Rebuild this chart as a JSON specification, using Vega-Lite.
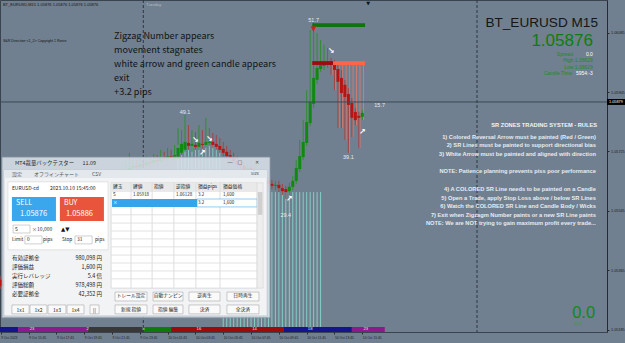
{
"$schema":"https://vega.github.io/schema/vega-lite/v6.json",
"width":607,"height":332,
"autosize":{"type":"none"},
"padding":{"left":0,"top":0,"right":18,"bottom":11},
"background":"#708090",
"config":{"view":{"stroke":"#3a444e","strokeWidth":1},"font":"Liberation Sans"},
"datasets":{"bars":[
{"t":"2023-10-09T13:45:00Z","o":1.05336,"h":1.05348,"l":1.05308,"c":1.05317},
{"t":"2023-10-09T14:00:00Z","o":1.05317,"h":1.05336,"l":1.05302,"c":1.05324},
{"t":"2023-10-09T14:15:00Z","o":1.05324,"h":1.05360,"l":1.05314,"c":1.05348},
{"t":"2023-10-09T14:30:00Z","o":1.05348,"h":1.05381,"l":1.05336,"c":1.05366},
{"t":"2023-10-09T14:45:00Z","o":1.05366,"h":1.05378,"l":1.05342,"c":1.05354},
{"t":"2023-10-09T15:00:00Z","o":1.05354,"h":1.05396,"l":1.05348,"c":1.05381},
{"t":"2023-10-09T15:15:00Z","o":1.05381,"h":1.05421,"l":1.05372,"c":1.05402},
{"t":"2023-10-09T15:30:00Z","o":1.05402,"h":1.05414,"l":1.05378,"c":1.05390},
{"t":"2023-10-09T15:45:00Z","o":1.05390,"h":1.05436,"l":1.05384,"c":1.05421},
{"t":"2023-10-09T16:00:00Z","o":1.05421,"h":1.05457,"l":1.05411,"c":1.05442},
{"t":"2023-10-09T16:15:00Z","o":1.05442,"h":1.05454,"l":1.05421,"c":1.05433},
{"t":"2023-10-09T16:30:00Z","o":1.05433,"h":1.05475,"l":1.05427,"c":1.05457},
{"t":"2023-10-09T16:45:00Z","o":1.05457,"h":1.05487,"l":1.05448,"c":1.05469},
{"t":"2023-10-09T17:00:00Z","o":1.05469,"h":1.05481,"l":1.05445,"c":1.05457},
{"t":"2023-10-09T17:15:00Z","o":1.05457,"h":1.05499,"l":1.05451,"c":1.05481},
{"t":"2023-10-09T17:30:00Z","o":1.05481,"h":1.05517,"l":1.05472,"c":1.05499},
{"t":"2023-10-09T17:45:00Z","o":1.05499,"h":1.05511,"l":1.05478,"c":1.05490},
{"t":"2023-10-09T18:00:00Z","o":1.05490,"h":1.05533,"l":1.05484,"c":1.05514},
{"t":"2023-10-09T18:15:00Z","o":1.05514,"h":1.05551,"l":1.05505,"c":1.05536},
{"t":"2023-10-09T18:30:00Z","o":1.05536,"h":1.05548,"l":1.05511,"c":1.05524},
{"t":"2023-10-09T18:45:00Z","o":1.05524,"h":1.05566,"l":1.05517,"c":1.05548},
{"t":"2023-10-09T19:00:00Z","o":1.05548,"h":1.05578,"l":1.05539,"c":1.05563},
{"t":"2023-10-09T19:15:00Z","o":1.05563,"h":1.05575,"l":1.05542,"c":1.05554},
{"t":"2023-10-09T19:30:00Z","o":1.05554,"h":1.05593,"l":1.05548,"c":1.05578},
{"t":"2023-10-09T19:45:00Z","o":1.05578,"h":1.05608,"l":1.05569,"c":1.05590},
{"t":"2023-10-09T20:00:00Z","o":1.05590,"h":1.05602,"l":1.05569,"c":1.05581},
{"t":"2023-10-09T20:15:00Z","o":1.05581,"h":1.05618,"l":1.05575,"c":1.05602},
{"t":"2023-10-09T20:30:00Z","o":1.05602,"h":1.05630,"l":1.05593,"c":1.05614},
{"t":"2023-10-09T20:45:00Z","o":1.05614,"h":1.05627,"l":1.05596,"c":1.05605},
{"t":"2023-10-09T21:00:00Z","o":1.05605,"h":1.05639,"l":1.05599,"c":1.05624},
{"t":"2023-10-09T21:15:00Z","o":1.05624,"h":1.05651,"l":1.05614,"c":1.05636},
{"t":"2023-10-09T21:30:00Z","o":1.05636,"h":1.05645,"l":1.05621,"c":1.05630},
{"t":"2023-10-09T21:45:00Z","o":1.05630,"h":1.05660,"l":1.05624,"c":1.05645},
{"t":"2023-10-09T22:00:00Z","o":1.05645,"h":1.05669,"l":1.05636,"c":1.05654},
{"t":"2023-10-09T22:15:00Z","o":1.05654,"h":1.05666,"l":1.05639,"c":1.05648},
{"t":"2023-10-09T22:30:00Z","o":1.05648,"h":1.05681,"l":1.05642,"c":1.05663},
{"t":"2023-10-09T22:45:00Z","o":1.05663,"h":1.05699,"l":1.05654,"c":1.05669},
{"t":"2023-10-09T23:00:00Z","o":1.05669,"h":1.05721,"l":1.05660,"c":1.05675},
{"t":"2023-10-09T23:15:00Z","o":1.05675,"h":1.05705,"l":1.05666,"c":1.05681},
{"t":"2023-10-09T23:30:00Z","o":1.05681,"h":1.05699,"l":1.05669,"c":1.05678},
{"t":"2023-10-09T23:45:00Z","o":1.05678,"h":1.05705,"l":1.05672,"c":1.05687},
{"t":"2023-10-10T00:00:00Z","o":1.05687,"h":1.05702,"l":1.05675,"c":1.05684},
{"t":"2023-10-10T00:15:00Z","o":1.05684,"h":1.05711,"l":1.05678,"c":1.05693},
{"t":"2023-10-10T00:30:00Z","o":1.05693,"h":1.05708,"l":1.05681,"c":1.05690},
{"t":"2023-10-10T00:45:00Z","o":1.05690,"h":1.05717,"l":1.05684,"c":1.05699},
{"t":"2023-10-10T01:00:00Z","o":1.05699,"h":1.05714,"l":1.05687,"c":1.05696},
{"t":"2023-10-10T01:15:00Z","o":1.05696,"h":1.05730,"l":1.05690,"c":1.05705},
{"t":"2023-10-10T01:30:00Z","o":1.05705,"h":1.05724,"l":1.05693,"c":1.05702},
{"t":"2023-10-10T01:45:00Z","o":1.05702,"h":1.05736,"l":1.05696,"c":1.05711},
{"t":"2023-10-10T02:00:00Z","o":1.05711,"h":1.05730,"l":1.05699,"c":1.05708},
{"t":"2023-10-10T02:15:00Z","o":1.05708,"h":1.05745,"l":1.05699,"c":1.05714},
{"t":"2023-10-10T02:30:00Z","o":1.05708,"h":1.05796,"l":1.05702,"c":1.05736},
{"t":"2023-10-10T02:45:00Z","o":1.05721,"h":1.05790,"l":1.05714,"c":1.05748},
{"t":"2023-10-10T03:00:00Z","o":1.05730,"h":1.05836,"l":1.05724,"c":1.05754},
{"t":"2023-10-10T03:15:00Z","o":1.05751,"h":1.05805,"l":1.05730,"c":1.05742},
{"t":"2023-10-10T03:30:00Z","o":1.05742,"h":1.05790,"l":1.05724,"c":1.05748},
{"t":"2023-10-10T03:45:00Z","o":1.05745,"h":1.05784,"l":1.05730,"c":1.05739},
{"t":"2023-10-10T04:00:00Z","o":1.05739,"h":1.05805,"l":1.05730,"c":1.05751},
{"t":"2023-10-10T04:15:00Z","o":1.05748,"h":1.05790,"l":1.05733,"c":1.05745},
{"t":"2023-10-10T04:30:00Z","o":1.05745,"h":1.05827,"l":1.05736,"c":1.05754},
{"t":"2023-10-10T04:45:00Z","o":1.05751,"h":1.05796,"l":1.05742,"c":1.05754},
{"t":"2023-10-10T05:00:00Z","o":1.05754,"h":1.05781,"l":1.05736,"c":1.05745},
{"t":"2023-10-10T05:15:00Z","o":1.05748,"h":1.05775,"l":1.05730,"c":1.05739},
{"t":"2023-10-10T05:30:00Z","o":1.05742,"h":1.05766,"l":1.05721,"c":1.05730},
{"t":"2023-10-10T05:45:00Z","o":1.05733,"h":1.05754,"l":1.05711,"c":1.05721},
{"t":"2023-10-10T06:00:00Z","o":1.05724,"h":1.05742,"l":1.05705,"c":1.05711},
{"t":"2023-10-10T06:15:00Z","o":1.05714,"h":1.05730,"l":1.05696,"c":1.05705},
{"t":"2023-10-10T06:30:00Z","o":1.05705,"h":1.05721,"l":1.05687,"c":1.05696},
{"t":"2023-10-10T06:45:00Z","o":1.05696,"h":1.05711,"l":1.05678,"c":1.05687},
{"t":"2023-10-10T07:00:00Z","o":1.05687,"h":1.05699,"l":1.05672,"c":1.05681},
{"t":"2023-10-10T07:15:00Z","o":1.05681,"h":1.05693,"l":1.05660,"c":1.05669},
{"t":"2023-10-10T07:30:00Z","o":1.05669,"h":1.05687,"l":1.05660,"c":1.05675},
{"t":"2023-10-10T07:45:00Z","o":1.05675,"h":1.05684,"l":1.05651,"c":1.05663},
{"t":"2023-10-10T08:00:00Z","o":1.05663,"h":1.05675,"l":1.05645,"c":1.05654},
{"t":"2023-10-10T08:15:00Z","o":1.05654,"h":1.05666,"l":1.05636,"c":1.05645},
{"t":"2023-10-10T08:30:00Z","o":1.05645,"h":1.05660,"l":1.05636,"c":1.05648},
{"t":"2023-10-10T08:45:00Z","o":1.05648,"h":1.05657,"l":1.05627,"c":1.05636},
{"t":"2023-10-10T09:00:00Z","o":1.05636,"h":1.05648,"l":1.05618,"c":1.05627},
{"t":"2023-10-10T09:15:00Z","o":1.05627,"h":1.05639,"l":1.05611,"c":1.05621},
{"t":"2023-10-10T09:30:00Z","o":1.05621,"h":1.05636,"l":1.05608,"c":1.05624},
{"t":"2023-10-10T09:45:00Z","o":1.05624,"h":1.05636,"l":1.05602,"c":1.05614},
{"t":"2023-10-10T10:00:00Z","o":1.05614,"h":1.05627,"l":1.05593,"c":1.05605},
{"t":"2023-10-10T10:15:00Z","o":1.05611,"h":1.05621,"l":1.05581,"c":1.05602},
{"t":"2023-10-10T10:30:00Z","o":1.05605,"h":1.05630,"l":1.05593,"c":1.05618},
{"t":"2023-10-10T10:45:00Z","o":1.05618,"h":1.05651,"l":1.05608,"c":1.05636},
{"t":"2023-10-10T11:00:00Z","o":1.05636,"h":1.05699,"l":1.05627,"c":1.05675},
{"t":"2023-10-10T11:15:00Z","o":1.05672,"h":1.05760,"l":1.05663,"c":1.05711},
{"t":"2023-10-10T11:30:00Z","o":1.05708,"h":1.05820,"l":1.05699,"c":1.05754},
{"t":"2023-10-10T11:45:00Z","o":1.05751,"h":1.05911,"l":1.05742,"c":1.05814},
{"t":"2023-10-10T12:00:00Z","o":1.05811,"h":1.06093,"l":1.05802,"c":1.05875},
{"t":"2023-10-10T12:15:00Z","o":1.05869,"h":1.06124,"l":1.05857,"c":1.05948},
{"t":"2023-10-10T12:30:00Z","o":1.05942,"h":1.06084,"l":1.05930,"c":1.05978},
{"t":"2023-10-10T12:45:00Z","o":1.05975,"h":1.06063,"l":1.05966,"c":1.05987},
{"t":"2023-10-10T13:00:00Z","o":1.05984,"h":1.06048,"l":1.05972,"c":1.05993},
{"t":"2023-10-10T13:15:00Z","o":1.05990,"h":1.06039,"l":1.05978,"c":1.05996},
{"t":"2023-10-10T13:30:00Z","o":1.05996,"h":1.06008,"l":1.05957,"c":1.05987},
{"t":"2023-10-10T13:45:00Z","o":1.05987,"h":1.06002,"l":1.05911,"c":1.05972},
{"t":"2023-10-10T14:00:00Z","o":1.05975,"h":1.05993,"l":1.05796,"c":1.05936},
{"t":"2023-10-10T14:15:00Z","o":1.05948,"h":1.05972,"l":1.05796,"c":1.05902},
{"t":"2023-10-10T14:30:00Z","o":1.05927,"h":1.05942,"l":1.05760,"c":1.05890},
{"t":"2023-10-10T14:45:00Z","o":1.05899,"h":1.05917,"l":1.05721,"c":1.05866},
{"t":"2023-10-10T15:00:00Z","o":1.05872,"h":1.05887,"l":1.05769,"c":1.05827},
{"t":"2023-10-10T15:15:00Z","o":1.05845,"h":1.05857,"l":1.05805,"c":1.05820},
{"t":"2023-10-10T15:30:00Z","o":1.05833,"h":1.05845,"l":1.05736,"c":1.05827},
{"t":"2023-10-10T15:45:00Z","o":1.05830,"h":1.05851,"l":1.05820,"c":1.05842}
]},
"layer":[
{"data":{"name":"bars"},
 "transform":[{"filter":{"field":"t","range":[{"year":2023,"month":10,"date":10,"hours":2,"minutes":30,"utc":true},{"year":2023,"month":10,"date":10,"hours":5,"minutes":30,"utc":true}]}}],
 "mark":{"type":"rule","color":"#86dccd","opacity":0.8},
 "encoding":{"x":{"field":"t","type":"temporal"},"y":{"datum":1.05745},"y2":{"datum":1.05669}}},
{"data":{"name":"bars"},
 "transform":[{"filter":{"field":"t","range":[{"year":2023,"month":10,"date":10,"hours":5,"minutes":45,"utc":true},{"year":2023,"month":10,"date":10,"hours":12,"minutes":45,"utc":true}]}}],
 "mark":{"type":"rule","color":"#86dccd","opacity":0.85},
 "encoding":{"x":{"field":"t","type":"temporal"},"y":{"datum":1.05602},"y2":{"datum":1.05178}}},
{"data":{"name":"bars"},
 "transform":[{"filter":{"field":"t","range":[{"year":2023,"month":10,"date":10,"hours":13,"minutes":30,"utc":true},{"year":2023,"month":10,"date":10,"hours":15,"minutes":45,"utc":true}]}}],
 "mark":{"type":"rule","color":"#f07a66","opacity":0.75,"xOffset":1.2},
 "encoding":{"x":{"field":"t","type":"temporal"},"y":{"field":"l","type":"quantitative"},"y2":{"datum":1.05993}}},
{"data":{"name":"bars"},
 "mark":{"type":"rule","strokeWidth":1},
 "encoding":{
  "x":{"field":"t","type":"temporal","scale":{"type":"utc","domain":[{"year":2023,"month":10,"date":9,"hours":13,"minutes":41,"seconds":33,"utc":true},{"year":2023,"month":10,"date":11,"hours":9,"minutes":21,"utc":true}]},
   "axis":{"orient":"bottom","title":null,"grid":false,"domain":false,"values":[
    {"year":2023,"month":10,"date":9,"hours":13,"minutes":45,"utc":true},
    {"year":2023,"month":10,"date":9,"hours":15,"minutes":45,"utc":true},
    {"year":2023,"month":10,"date":9,"hours":17,"minutes":45,"utc":true},
    {"year":2023,"month":10,"date":9,"hours":19,"minutes":45,"utc":true},
    {"year":2023,"month":10,"date":9,"hours":21,"minutes":45,"utc":true},
    {"year":2023,"month":10,"date":9,"hours":23,"minutes":45,"utc":true},
    {"year":2023,"month":10,"date":10,"hours":1,"minutes":45,"utc":true},
    {"year":2023,"month":10,"date":10,"hours":3,"minutes":45,"utc":true},
    {"year":2023,"month":10,"date":10,"hours":5,"minutes":45,"utc":true},
    {"year":2023,"month":10,"date":10,"hours":7,"minutes":45,"utc":true},
    {"year":2023,"month":10,"date":10,"hours":9,"minutes":45,"utc":true},
    {"year":2023,"month":10,"date":10,"hours":11,"minutes":45,"utc":true},
    {"year":2023,"month":10,"date":10,"hours":13,"minutes":45,"utc":true},
    {"year":2023,"month":10,"date":10,"hours":15,"minutes":45,"utc":true}],
    "labelExpr":"(utcFormat(datum.value, '%d %H:%M') == '09 13:45') ? '9 Oct 2023' : utcFormat(datum.value, '%-d %b %H:%M')",
    "labelAlign":"left","labelFlush":false,"labelOverlap":false,"labelFontSize":3.3,"labelColor":"#1c1c1c","labelPadding":1,"tickSize":2,"tickColor":"#2a2a2a","labelFont":"Liberation Sans"}},
  "y":{"field":"l","type":"quantitative","scale":{"domain":[1.05178,1.06184],"zero":false,"nice":false},
   "axis":{"orient":"right","title":null,"grid":false,"values":[1.06175,1.0613,1.06085,1.0604,1.05995,1.0595,1.05905,1.0586,1.05815,1.0577,1.05725,1.0568,1.05635,1.0559,1.05545,1.055,1.05455,1.0541,1.05365,1.0532,1.05275,1.0523,1.05185],
    "format":".5f","labelFontSize":3.8,"labelColor":"#1c1c1c","labelPadding":1.5,"tickSize":2,"tickColor":"#2a2a2a","domain":true,"domainColor":"#2a2a2a","labelOverlap":false,"labelFlush":false,"labelFont":"Liberation Sans"}},
  "y2":{"field":"h"},
  "color":{"condition":{"test":"datum.c >= datum.o","value":"#2f8f2f"},"value":"#a04545"}}},
{"data":{"name":"bars"},
 "mark":{"type":"rule","strokeWidth":3},
 "encoding":{"x":{"field":"t","type":"temporal"},"y":{"field":"o","type":"quantitative"},"y2":{"field":"c"},
  "color":{"condition":{"test":"datum.c >= datum.o","value":"#0f8a0f"},"value":"#b81414"}}},
{"data":{"values":[
  {"start":"2023-10-10T12:09:00Z","end":"2023-10-10T15:57:00Z","level":1.06108,"zone":"resistance"},
  {"start":"2023-10-10T12:09:00Z","end":"2023-10-10T13:39:00Z","level":1.05993,"zone":"support"},
  {"start":"2023-10-10T13:39:00Z","end":"2023-10-10T15:57:00Z","level":1.05993,"zone":"support broken"}]},
 "mark":{"type":"rule","strokeWidth":3.8},
 "encoding":{"x":{"field":"start","type":"temporal"},"x2":{"field":"end"},"y":{"field":"level","type":"quantitative"},
  "color":{"field":"zone","type":"nominal","legend":null,"scale":{"domain":["resistance","support","support broken"],"range":["#0f740f","#9c0c0c","#ff6448"]}}}},
{"data":{"values":[
  {"start":"2023-10-09T13:41:00Z","end":"2023-10-09T15:00:00Z","state":"s1"},
  {"start":"2023-10-09T15:00:00Z","end":"2023-10-09T20:00:00Z","state":"s2"},
  {"start":"2023-10-09T20:00:00Z","end":"2023-10-10T00:00:00Z","state":"s3"},
  {"start":"2023-10-10T00:00:00Z","end":"2023-10-10T02:00:00Z","state":"s4"},
  {"start":"2023-10-10T02:00:00Z","end":"2023-10-10T10:07:00Z","state":"s5"},
  {"start":"2023-10-10T10:07:00Z","end":"2023-10-10T15:00:00Z","state":"s1"},
  {"start":"2023-10-10T15:00:00Z","end":"2023-10-10T17:22:00Z","state":"s2"}]},
 "mark":{"type":"rect"},
 "encoding":{"x":{"field":"start","type":"temporal"},"x2":{"field":"end"},"y":{"datum":1.05193},"y2":{"datum":1.05178},
  "fill":{"field":"state","type":"nominal","legend":null,"scale":{"domain":["s1","s2","s3","s4","s5"],"range":["#14148c","#8c1a8c","#383838","#0c7a0c","#9c0a0a"]}}}},
{"data":{"values":[
  {"t":"2023-10-09T16:00:00Z","v":"23"},{"t":"2023-10-09T20:00:00Z","v":"2"},{"t":"2023-10-10T00:00:00Z","v":"5"},
  {"t":"2023-10-10T04:00:00Z","v":"16"},{"t":"2023-10-10T08:00:00Z","v":"14"},{"t":"2023-10-10T12:00:00Z","v":"18"},{"t":"2023-10-10T16:00:00Z","v":"23"}]},
 "mark":{"type":"text","fontSize":4.2,"color":"#e8e8e8","baseline":"middle"},
 "encoding":{"x":{"field":"t","type":"temporal"},"y":{"datum":1.05186},"text":{"field":"v"}}},
{"data":{"values":[{}]},
 "layer":[
  {"mark":{"type":"rule","color":"#3d4853"},"encoding":{"y":{"datum":1.05875}}},
  {"mark":{"type":"rule","color":"#2e3640","strokeDash":[3,2]},"encoding":{"x":{"datum":{"year":2023,"month":10,"date":10,"hours":0,"minutes":0,"utc":true}}}},
  {"mark":{"type":"rule","color":"#2e3640","strokeDash":[3,2]},"encoding":{"x":{"datum":{"year":2023,"month":10,"date":11,"hours":0,"minutes":0,"utc":true}}}},
  {"mark":{"type":"text","text":"▼","fontSize":7,"color":"#d02020","baseline":"middle","font":"DejaVu Sans"},"encoding":{"x":{"datum":{"year":2023,"month":10,"date":10,"hours":12,"minutes":15,"utc":true}},"y":{"datum":1.06096}}}
 ]},
{"data":{"values":[
  {"t":"2023-10-10T03:00:00Z","p":1.05845,"label":"49.1"},
  {"t":"2023-10-10T10:15:00Z","p":1.05533,"label":"29.4"},
  {"t":"2023-10-10T12:15:00Z","p":1.06124,"label":"51.7"},
  {"t":"2023-10-10T14:45:00Z","p":1.05708,"label":"39.1"},
  {"t":"2023-10-10T17:00:00Z","p":1.05866,"label":"15.7"}]},
 "mark":{"type":"text","fontSize":5.5,"color":"#e6eaf0","baseline":"middle"},
 "encoding":{"x":{"field":"t","type":"temporal"},"y":{"field":"p","type":"quantitative"},"text":{"field":"label"}}},
{"data":{"values":[
  {"t":"2023-10-10T03:45:00Z","p":1.05760,"dir":"down"},
  {"t":"2023-10-10T04:15:00Z","p":1.05721,"dir":"up"},
  {"t":"2023-10-10T04:45:00Z","p":1.05763,"dir":"down"},
  {"t":"2023-10-10T10:30:00Z","p":1.05581,"dir":"up"},
  {"t":"2023-10-10T13:30:00Z","p":1.06030,"dir":"down"},
  {"t":"2023-10-10T15:45:00Z","p":1.05784,"dir":"up"}]},
 "mark":{"type":"text","fontSize":8,"fontWeight":"bold","color":"#ffffff","baseline":"middle","font":"DejaVu Sans"},
 "encoding":{"x":{"field":"t","type":"temporal"},"y":{"field":"p","type":"quantitative"},
  "text":{"condition":{"test":"datum.dir == 'up'","value":"↗"},"value":"↘"}}},
{"data":{"values":[{}]},
 "layer":[
  {"mark":{"type":"text","text":"BT_EURUSD,M15  1.05876 1.05876 1.05876 1.05876","align":"left","baseline":"middle","fontSize":4,"color":"#141414"},"encoding":{"x":{"datum":{"year":2023,"month":10,"date":9,"hours":13,"minutes":54,"utc":true}},"y":{"datum":1.06169}}},
  {"mark":{"type":"text","text":"S&R Direction <1_2> Copyright ‡ Ronin","align":"left","baseline":"middle","fontSize":3.6,"color":"#141414"},"encoding":{"x":{"datum":{"year":2023,"month":10,"date":9,"hours":13,"minutes":54,"utc":true}},"y":{"datum":1.06060}}},
  {"mark":{"type":"text","text":"Tuesday","align":"left","baseline":"middle","fontSize":4,"color":"#b4bcc6"},"encoding":{"x":{"datum":{"year":2023,"month":10,"date":9,"hours":13,"minutes":672,"utc":true}},"y":{"datum":1.06169}}},
  {"mark":{"type":"text","text":"▼","baseline":"middle","fontSize":5,"color":"#111111","font":"DejaVu Sans"},"encoding":{"x":{"datum":{"year":2023,"month":10,"date":9,"hours":13,"minutes":1630,"utc":true}},"y":{"datum":1.06176}}},
  {"mark":{"type":"text","text":["Zigzag Number appears","movement stagnates","white arrow and green candle appears","exit","+3.2 pips"],"align":"left","baseline":"top","lineHeight":14,"fontSize":9.1,"color":"#141414","font":"Noto Sans CJK JP"},"encoding":{"x":{"datum":{"year":2023,"month":10,"date":9,"hours":13,"minutes":534,"utc":true}},"y":{"datum":1.06088}}},
  {"mark":{"type":"text","text":"BT_EURUSD M15","align":"right","baseline":"middle","fontSize":13.6,"color":"#161616"},"encoding":{"x":{"datum":{"year":2023,"month":10,"date":9,"hours":13,"minutes":2622,"utc":true}},"y":{"datum":1.06114}}},
  {"mark":{"type":"text","text":"1.05876","align":"right","baseline":"middle","fontSize":17,"color":"#0e7d0e"},"encoding":{"x":{"datum":{"year":2023,"month":10,"date":9,"hours":13,"minutes":2600,"utc":true}},"y":{"datum":1.06060}}},
  {"mark":{"type":"text","text":"Spread","align":"right","baseline":"middle","fontSize":5,"color":"#1f8a1f"},"encoding":{"x":{"datum":{"year":2023,"month":10,"date":9,"hours":13,"minutes":2514,"utc":true}},"y":{"datum":1.06020}}},
  {"mark":{"type":"text","text":"0.0","align":"right","baseline":"middle","fontSize":5,"color":"#ffffff"},"encoding":{"x":{"datum":{"year":2023,"month":10,"date":9,"hours":13,"minutes":2600,"utc":true}},"y":{"datum":1.06020}}},
  {"mark":{"type":"text","text":"High 1.08629","align":"right","baseline":"middle","fontSize":5,"color":"#1f8a1f"},"encoding":{"x":{"datum":{"year":2023,"month":10,"date":9,"hours":13,"minutes":2600,"utc":true}},"y":{"datum":1.06001}}},
  {"mark":{"type":"text","text":"Low 1.08629","align":"right","baseline":"middle","fontSize":5,"color":"#1f8a1f"},"encoding":{"x":{"datum":{"year":2023,"month":10,"date":9,"hours":13,"minutes":2600,"utc":true}},"y":{"datum":1.05981}}},
  {"mark":{"type":"text","text":"Candle Time","align":"right","baseline":"middle","fontSize":5,"color":"#1f8a1f"},"encoding":{"x":{"datum":{"year":2023,"month":10,"date":9,"hours":13,"minutes":2510,"utc":true}},"y":{"datum":1.05962}}},
  {"mark":{"type":"text","text":"5954:-3","align":"right","baseline":"middle","fontSize":5,"color":"#ffffff"},"encoding":{"x":{"datum":{"year":2023,"month":10,"date":9,"hours":13,"minutes":2600,"utc":true}},"y":{"datum":1.05962}}},
  {"mark":{"type":"text","text":"SR ZONES TRADING SYSTEM - RULES","align":"right","baseline":"middle","fontSize":5.7,"fontWeight":"bold","color":"#f2f4f8"},"encoding":{"x":{"datum":{"year":2023,"month":10,"date":9,"hours":13,"minutes":2618,"utc":true}},"y":{"datum":1.05805}}},
  {"mark":{"type":"text","text":["1) Colored Reversal Arrow must be painted (Red / Green)","2) SR Lines must be painted to support directional bias","3) White Arrow must be painted and aligned with direction"],"align":"right","baseline":"top","lineHeight":8.7,"fontSize":5.7,"fontWeight":"bold","color":"#e8ebf0"},"encoding":{"x":{"datum":{"year":2023,"month":10,"date":9,"hours":13,"minutes":2613,"utc":true}},"y":{"datum":1.05779}}},
  {"mark":{"type":"text","text":"NOTE: Patience planning prevents piss poor performance","align":"right","baseline":"middle","fontSize":5.7,"fontWeight":"bold","color":"#e8ebf0"},"encoding":{"x":{"datum":{"year":2023,"month":10,"date":9,"hours":13,"minutes":2613,"utc":true}},"y":{"datum":1.05666}}},
  {"mark":{"type":"text","text":["4) A COLORED SR Line needs to be painted on a Candle","5) Open a Trade, apply Stop Loss above / below SR Lines","6) Watch the COLORED SR Line and Candle Body / Wicks","7) Exit when Zigzagm Number paints or a new SR Line paints","NOTE: We are NOT trying to gain maximum profit every trade..."],"align":"right","baseline":"top","lineHeight":8.4,"fontSize":5.7,"fontWeight":"bold","color":"#e8ebf0"},"encoding":{"x":{"datum":{"year":2023,"month":10,"date":9,"hours":13,"minutes":2613,"utc":true}},"y":{"datum":1.05619}}},
  {"mark":{"type":"text","text":"0.0","align":"center","baseline":"middle","fontSize":16.5,"color":"#138a13"},"encoding":{"x":{"datum":{"year":2023,"month":10,"date":9,"hours":13,"minutes":2560,"utc":true}},"y":{"datum":1.05236}}},
  {"mark":{"type":"text","text":"0.0","align":"center","baseline":"middle","fontSize":5.5,"color":"#3f9a3f"},"encoding":{"x":{"datum":{"year":2023,"month":10,"date":9,"hours":13,"minutes":2536,"utc":true}},"y":{"datum":1.05201}}},
  {"mark":{"type":"rect","fill":"#000000"},"encoding":{"x":{"datum":{"year":2023,"month":10,"date":9,"hours":13,"minutes":2661,"utc":true}},"x2":{"datum":{"year":2023,"month":10,"date":9,"hours":13,"minutes":2739,"utc":true}},"y":{"datum":1.05884},"y2":{"datum":1.05866}}},
  {"mark":{"type":"text","text":"1.05879","align":"left","baseline":"middle","fontSize":3.8,"color":"#ffffff"},"encoding":{"x":{"datum":{"year":2023,"month":10,"date":9,"hours":13,"minutes":2670,"utc":true}},"y":{"datum":1.05875}}}
 ]},
{"data":{"values":[{}]},
 "layer":[
  {"mark":{"type":"rect","fill":"#dae3eb","fillOpacity":0.85,"stroke":"#8794a0","strokeWidth":0.8},"encoding":{"x":{"datum":{"year":2023,"month":10,"date":9,"hours":13,"minutes":50,"utc":true}},"x2":{"datum":{"year":2023,"month":10,"date":9,"hours":13,"minutes":1207,"utc":true}},"y":{"datum":1.05708},"y2":{"datum":1.05221}}},
  {"mark":{"type":"rect","fill":"#f2f3f4","stroke":"#b8c0c8","strokeWidth":0.5},"encoding":{"x":{"datum":{"year":2023,"month":10,"date":9,"hours":13,"minutes":59,"utc":true}},"x2":{"datum":{"year":2023,"month":10,"date":9,"hours":13,"minutes":1194,"utc":true}},"y":{"datum":1.05669},"y2":{"datum":1.05227}}},
  {"mark":{"type":"rect","fill":"#e3e8ed"},"encoding":{"x":{"datum":{"year":2023,"month":10,"date":9,"hours":13,"minutes":59,"utc":true}},"x2":{"datum":{"year":2023,"month":10,"date":9,"hours":13,"minutes":1194,"utc":true}},"y":{"datum":1.05669},"y2":{"datum":1.05645}}},
  {"mark":{"type":"text","text":"MT4裁量バックテスター","align":"left","baseline":"middle","fontSize":5.4,"color":"#2a2a2a","font":"Noto Sans CJK JP"},"encoding":{"x":{"datum":{"year":2023,"month":10,"date":9,"hours":13,"minutes":106,"utc":true}},"y":{"datum":1.05690}}},
  {"mark":{"type":"text","text":"11.09","align":"left","baseline":"middle","fontSize":5.4,"color":"#2a2a2a","font":"Noto Sans CJK JP"},"encoding":{"x":{"datum":{"year":2023,"month":10,"date":9,"hours":13,"minutes":398,"utc":true}},"y":{"datum":1.05690}}},
  {"mark":{"type":"text","text":"—","align":"center","baseline":"middle","fontSize":5,"color":"#444444"},"encoding":{"x":{"datum":{"year":2023,"month":10,"date":9,"hours":13,"minutes":1034,"utc":true}},"y":{"datum":1.05693}}},
  {"mark":{"type":"text","text":"□","align":"center","baseline":"middle","fontSize":5,"color":"#444444","font":"DejaVu Sans"},"encoding":{"x":{"datum":{"year":2023,"month":10,"date":9,"hours":13,"minutes":1077,"utc":true}},"y":{"datum":1.05693}}},
  {"mark":{"type":"text","text":"✕","align":"center","baseline":"middle","fontSize":5,"color":"#444444","font":"DejaVu Sans"},"encoding":{"x":{"datum":{"year":2023,"month":10,"date":9,"hours":13,"minutes":1151,"utc":true}},"y":{"datum":1.05693}}},
  {"mark":{"type":"text","text":"設定","align":"left","baseline":"middle","fontSize":5,"color":"#555555","font":"Noto Sans CJK JP"},"encoding":{"x":{"datum":{"year":2023,"month":10,"date":9,"hours":13,"minutes":93,"utc":true}},"y":{"datum":1.05657}}},
  {"mark":{"type":"text","text":"オフラインチャート","align":"left","baseline":"middle","fontSize":5,"color":"#555555","font":"Noto Sans CJK JP"},"encoding":{"x":{"datum":{"year":2023,"month":10,"date":9,"hours":13,"minutes":188,"utc":true}},"y":{"datum":1.05657}}},
  {"mark":{"type":"text","text":"CSV","align":"left","baseline":"middle","fontSize":5,"color":"#555555","font":"Noto Sans CJK JP"},"encoding":{"x":{"datum":{"year":2023,"month":10,"date":9,"hours":13,"minutes":439,"utc":true}},"y":{"datum":1.05657}}},
  {"mark":{"type":"text","text":"size","align":"left","baseline":"middle","fontSize":4.5,"color":"#555555","font":"Noto Sans CJK JP"},"encoding":{"x":{"datum":{"year":2023,"month":10,"date":9,"hours":13,"minutes":1125,"utc":true}},"y":{"datum":1.05657}}},
  {"mark":{"type":"rect","fill":"#ffffff","stroke":"#d4d4d4","strokeWidth":0.6},"encoding":{"x":{"datum":{"year":2023,"month":10,"date":9,"hours":13,"minutes":76,"utc":true}},"x2":{"datum":{"year":2023,"month":10,"date":9,"hours":13,"minutes":508,"utc":true}},"y":{"datum":1.05633},"y2":{"datum":1.05427}}},
  {"mark":{"type":"text","text":"EURUSD-cd","align":"left","baseline":"middle","fontSize":5,"color":"#222222","font":"Noto Sans CJK JP"},"encoding":{"x":{"datum":{"year":2023,"month":10,"date":9,"hours":13,"minutes":93,"utc":true}},"y":{"datum":1.05614}}},
  {"mark":{"type":"text","text":"2023.10.10 15:45:00","align":"left","baseline":"middle","fontSize":5,"color":"#222222","font":"Noto Sans CJK JP"},"encoding":{"x":{"datum":{"year":2023,"month":10,"date":9,"hours":13,"minutes":257,"utc":true}},"y":{"datum":1.05614}}},
  {"mark":{"type":"rect","fill":"#3aa6ec"},"encoding":{"x":{"datum":{"year":2023,"month":10,"date":9,"hours":13,"minutes":93,"utc":true}},"x2":{"datum":{"year":2023,"month":10,"date":9,"hours":13,"minutes":283,"utc":true}},"y":{"datum":1.05587},"y2":{"datum":1.05514}}},
  {"mark":{"type":"rect","fill":"#e8543c"},"encoding":{"x":{"datum":{"year":2023,"month":10,"date":9,"hours":13,"minutes":300,"utc":true}},"x2":{"datum":{"year":2023,"month":10,"date":9,"hours":13,"minutes":490,"utc":true}},"y":{"datum":1.05587},"y2":{"datum":1.05514}}},
  {"mark":{"type":"text","text":"SELL","align":"left","baseline":"middle","fontSize":7,"color":"#ffffff","font":"Noto Sans CJK JP"},"encoding":{"x":{"datum":{"year":2023,"month":10,"date":9,"hours":13,"minutes":111,"utc":true}},"y":{"datum":1.05569}}},
  {"mark":{"type":"text","text":"1.05876","align":"left","baseline":"middle","fontSize":7.5,"color":"#ffffff","font":"Noto Sans CJK JP"},"encoding":{"x":{"datum":{"year":2023,"month":10,"date":9,"hours":13,"minutes":128,"utc":true}},"y":{"datum":1.05536}}},
  {"mark":{"type":"text","text":"BUY","align":"left","baseline":"middle","fontSize":7,"color":"#ffffff","font":"Noto Sans CJK JP"},"encoding":{"x":{"datum":{"year":2023,"month":10,"date":9,"hours":13,"minutes":318,"utc":true}},"y":{"datum":1.05569}}},
  {"mark":{"type":"text","text":"1.05886","align":"left","baseline":"middle","fontSize":7.5,"color":"#ffffff","font":"Noto Sans CJK JP"},"encoding":{"x":{"datum":{"year":2023,"month":10,"date":9,"hours":13,"minutes":326,"utc":true}},"y":{"datum":1.05536}}},
  {"mark":{"type":"rect","fill":"#ffffff","stroke":"#a0a0a0","strokeWidth":0.5},"encoding":{"x":{"datum":{"year":2023,"month":10,"date":9,"hours":13,"minutes":98,"utc":true}},"x2":{"datum":{"year":2023,"month":10,"date":9,"hours":13,"minutes":171,"utc":true}},"y":{"datum":1.05502},"y2":{"datum":1.05478}}},
  {"mark":{"type":"text","text":"5","align":"left","baseline":"middle","fontSize":5,"color":"#222222","font":"Noto Sans CJK JP"},"encoding":{"x":{"datum":{"year":2023,"month":10,"date":9,"hours":13,"minutes":106,"utc":true}},"y":{"datum":1.05490}}},
  {"mark":{"type":"text","text":"×10,000","align":"left","baseline":"middle","fontSize":5,"color":"#333333","font":"Noto Sans CJK JP"},"encoding":{"x":{"datum":{"year":2023,"month":10,"date":9,"hours":13,"minutes":180,"utc":true}},"y":{"datum":1.05490}}},
  {"mark":{"type":"text","text":"▲▼","align":"left","baseline":"middle","fontSize":5.5,"color":"#111111","font":"DejaVu Sans"},"encoding":{"x":{"datum":{"year":2023,"month":10,"date":9,"hours":13,"minutes":305,"utc":true}},"y":{"datum":1.05490}}},
  {"mark":{"type":"text","text":"Limit","align":"left","baseline":"middle","fontSize":4.8,"color":"#222222","font":"Noto Sans CJK JP"},"encoding":{"x":{"datum":{"year":2023,"month":10,"date":9,"hours":13,"minutes":93,"utc":true}},"y":{"datum":1.05457}}},
  {"mark":{"type":"rect","fill":"#ffffff","stroke":"#a0a0a0","strokeWidth":0.5},"encoding":{"x":{"datum":{"year":2023,"month":10,"date":9,"hours":13,"minutes":149,"utc":true}},"x2":{"datum":{"year":2023,"month":10,"date":9,"hours":13,"minutes":223,"utc":true}},"y":{"datum":1.05469},"y2":{"datum":1.05445}}},
  {"mark":{"type":"text","text":"0","align":"left","baseline":"middle","fontSize":4.8,"color":"#222222","font":"Noto Sans CJK JP"},"encoding":{"x":{"datum":{"year":2023,"month":10,"date":9,"hours":13,"minutes":158,"utc":true}},"y":{"datum":1.05457}}},
  {"mark":{"type":"text","text":"pips","align":"left","baseline":"middle","fontSize":4.8,"color":"#222222","font":"Noto Sans CJK JP"},"encoding":{"x":{"datum":{"year":2023,"month":10,"date":9,"hours":13,"minutes":227,"utc":true}},"y":{"datum":1.05457}}},
  {"mark":{"type":"text","text":"Stop","align":"left","baseline":"middle","fontSize":4.8,"color":"#222222","font":"Noto Sans CJK JP"},"encoding":{"x":{"datum":{"year":2023,"month":10,"date":9,"hours":13,"minutes":309,"utc":true}},"y":{"datum":1.05457}}},
  {"mark":{"type":"rect","fill":"#ffffff","stroke":"#a0a0a0","strokeWidth":0.5},"encoding":{"x":{"datum":{"year":2023,"month":10,"date":9,"hours":13,"minutes":365,"utc":true}},"x2":{"datum":{"year":2023,"month":10,"date":9,"hours":13,"minutes":439,"utc":true}},"y":{"datum":1.05469},"y2":{"datum":1.05445}}},
  {"mark":{"type":"text","text":"31","align":"left","baseline":"middle","fontSize":4.8,"color":"#222222","font":"Noto Sans CJK JP"},"encoding":{"x":{"datum":{"year":2023,"month":10,"date":9,"hours":13,"minutes":374,"utc":true}},"y":{"datum":1.05457}}},
  {"mark":{"type":"text","text":"pips","align":"left","baseline":"middle","fontSize":4.8,"color":"#222222","font":"Noto Sans CJK JP"},"encoding":{"x":{"datum":{"year":2023,"month":10,"date":9,"hours":13,"minutes":451,"utc":true}},"y":{"datum":1.05457}}},
  {"mark":{"type":"text","text":["有効証拠金","評価損益","実行レバレッジ","評価総額","必要証拠金"],"align":"left","baseline":"top","lineHeight":9,"fontSize":5.5,"color":"#222222","font":"Noto Sans CJK JP"},"encoding":{"x":{"datum":{"year":2023,"month":10,"date":9,"hours":13,"minutes":93,"utc":true}},"y":{"datum":1.05409}}},
  {"mark":{"type":"text","text":["980,098 円","1,600 円","5.4 倍","978,498 円","42,352 円"],"align":"right","baseline":"top","lineHeight":9,"fontSize":5.5,"color":"#222222","font":"Noto Sans CJK JP"},"encoding":{"x":{"datum":{"year":2023,"month":10,"date":9,"hours":13,"minutes":482,"utc":true}},"y":{"datum":1.05409}}},
  {"mark":{"type":"rect","fill":"#fafafa","stroke":"#9a9a9a","strokeWidth":0.5},"encoding":{"x":{"datum":{"year":2023,"month":10,"date":9,"hours":13,"minutes":93,"utc":true}},"x2":{"datum":{"year":2023,"month":10,"date":9,"hours":13,"minutes":167,"utc":true}},"y":{"datum":1.05260},"y2":{"datum":1.05233}}},
  {"mark":{"type":"rect","fill":"#fafafa","stroke":"#9a9a9a","strokeWidth":0.5},"encoding":{"x":{"datum":{"year":2023,"month":10,"date":9,"hours":13,"minutes":171,"utc":true}},"x2":{"datum":{"year":2023,"month":10,"date":9,"hours":13,"minutes":244,"utc":true}},"y":{"datum":1.05260},"y2":{"datum":1.05233}}},
  {"mark":{"type":"rect","fill":"#fafafa","stroke":"#9a9a9a","strokeWidth":0.5},"encoding":{"x":{"datum":{"year":2023,"month":10,"date":9,"hours":13,"minutes":249,"utc":true}},"x2":{"datum":{"year":2023,"month":10,"date":9,"hours":13,"minutes":326,"utc":true}},"y":{"datum":1.05260},"y2":{"datum":1.05233}}},
  {"mark":{"type":"rect","fill":"#fafafa","stroke":"#9a9a9a","strokeWidth":0.5},"encoding":{"x":{"datum":{"year":2023,"month":10,"date":9,"hours":13,"minutes":331,"utc":true}},"x2":{"datum":{"year":2023,"month":10,"date":9,"hours":13,"minutes":404,"utc":true}},"y":{"datum":1.05260},"y2":{"datum":1.05233}}},
  {"mark":{"type":"rect","fill":"#fafafa","stroke":"#9a9a9a","strokeWidth":0.5},"encoding":{"x":{"datum":{"year":2023,"month":10,"date":9,"hours":13,"minutes":430,"utc":true}},"x2":{"datum":{"year":2023,"month":10,"date":9,"hours":13,"minutes":469,"utc":true}},"y":{"datum":1.05260},"y2":{"datum":1.05233}}},
  {"mark":{"type":"text","text":"1x1","align":"center","baseline":"middle","fontSize":5,"color":"#222222","font":"Noto Sans CJK JP"},"encoding":{"x":{"datum":{"year":2023,"month":10,"date":9,"hours":13,"minutes":130,"utc":true}},"y":{"datum":1.05246}}},
  {"mark":{"type":"text","text":"1x2","align":"center","baseline":"middle","fontSize":5,"color":"#222222","font":"Noto Sans CJK JP"},"encoding":{"x":{"datum":{"year":2023,"month":10,"date":9,"hours":13,"minutes":208,"utc":true}},"y":{"datum":1.05246}}},
  {"mark":{"type":"text","text":"1x3","align":"center","baseline":"middle","fontSize":5,"color":"#222222","font":"Noto Sans CJK JP"},"encoding":{"x":{"datum":{"year":2023,"month":10,"date":9,"hours":13,"minutes":288,"utc":true}},"y":{"datum":1.05246}}},
  {"mark":{"type":"text","text":"1x4","align":"center","baseline":"middle","fontSize":5,"color":"#222222","font":"Noto Sans CJK JP"},"encoding":{"x":{"datum":{"year":2023,"month":10,"date":9,"hours":13,"minutes":367,"utc":true}},"y":{"datum":1.05246}}},
  {"mark":{"type":"text","text":"||","align":"center","baseline":"middle","fontSize":5,"color":"#222222","font":"Noto Sans CJK JP"},"encoding":{"x":{"datum":{"year":2023,"month":10,"date":9,"hours":13,"minutes":449,"utc":true}},"y":{"datum":1.05246}}},
  {"mark":{"type":"rect","fill":"#ffffff","stroke":"#c8c8c8","strokeWidth":0.6},"encoding":{"x":{"datum":{"year":2023,"month":10,"date":9,"hours":13,"minutes":521,"utc":true}},"x2":{"datum":{"year":2023,"month":10,"date":9,"hours":13,"minutes":1151,"utc":true}},"y":{"datum":1.05630},"y2":{"datum":1.05311}}},
  {"mark":{"type":"rect","fill":"#e9e9e9"},"encoding":{"x":{"datum":{"year":2023,"month":10,"date":9,"hours":13,"minutes":521,"utc":true}},"x2":{"datum":{"year":2023,"month":10,"date":9,"hours":13,"minutes":1151,"utc":true}},"y":{"datum":1.05630},"y2":{"datum":1.05602}}},
  {"mark":{"type":"rule","color":"#e2e2e2"},"encoding":{"x":{"datum":{"year":2023,"month":10,"date":9,"hours":13,"minutes":521,"utc":true}},"x2":{"datum":{"year":2023,"month":10,"date":9,"hours":13,"minutes":1151,"utc":true}},"y":{"datum":1.05533}}},
  {"mark":{"type":"rule","color":"#e2e2e2"},"encoding":{"x":{"datum":{"year":2023,"month":10,"date":9,"hours":13,"minutes":521,"utc":true}},"x2":{"datum":{"year":2023,"month":10,"date":9,"hours":13,"minutes":1151,"utc":true}},"y":{"datum":1.05508}}},
  {"mark":{"type":"rule","color":"#e2e2e2"},"encoding":{"x":{"datum":{"year":2023,"month":10,"date":9,"hours":13,"minutes":521,"utc":true}},"x2":{"datum":{"year":2023,"month":10,"date":9,"hours":13,"minutes":1151,"utc":true}},"y":{"datum":1.05484}}},
  {"mark":{"type":"rule","color":"#e2e2e2"},"encoding":{"x":{"datum":{"year":2023,"month":10,"date":9,"hours":13,"minutes":521,"utc":true}},"x2":{"datum":{"year":2023,"month":10,"date":9,"hours":13,"minutes":1151,"utc":true}},"y":{"datum":1.05460}}},
  {"mark":{"type":"rule","color":"#e2e2e2"},"encoding":{"x":{"datum":{"year":2023,"month":10,"date":9,"hours":13,"minutes":521,"utc":true}},"x2":{"datum":{"year":2023,"month":10,"date":9,"hours":13,"minutes":1151,"utc":true}},"y":{"datum":1.05436}}},
  {"mark":{"type":"rule","color":"#e2e2e2"},"encoding":{"x":{"datum":{"year":2023,"month":10,"date":9,"hours":13,"minutes":521,"utc":true}},"x2":{"datum":{"year":2023,"month":10,"date":9,"hours":13,"minutes":1151,"utc":true}},"y":{"datum":1.05411}}},
  {"mark":{"type":"rule","color":"#e2e2e2"},"encoding":{"x":{"datum":{"year":2023,"month":10,"date":9,"hours":13,"minutes":521,"utc":true}},"x2":{"datum":{"year":2023,"month":10,"date":9,"hours":13,"minutes":1151,"utc":true}},"y":{"datum":1.05387}}},
  {"mark":{"type":"rule","color":"#e2e2e2"},"encoding":{"x":{"datum":{"year":2023,"month":10,"date":9,"hours":13,"minutes":521,"utc":true}},"x2":{"datum":{"year":2023,"month":10,"date":9,"hours":13,"minutes":1151,"utc":true}},"y":{"datum":1.05363}}},
  {"mark":{"type":"rule","color":"#e2e2e2"},"encoding":{"x":{"datum":{"year":2023,"month":10,"date":9,"hours":13,"minutes":521,"utc":true}},"x2":{"datum":{"year":2023,"month":10,"date":9,"hours":13,"minutes":1151,"utc":true}},"y":{"datum":1.05339}}},
  {"mark":{"type":"rule","color":"#dddddd"},"encoding":{"x":{"datum":{"year":2023,"month":10,"date":9,"hours":13,"minutes":607,"utc":true}},"y":{"datum":1.05630},"y2":{"datum":1.05311}}},
  {"mark":{"type":"rule","color":"#dddddd"},"encoding":{"x":{"datum":{"year":2023,"month":10,"date":9,"hours":13,"minutes":698,"utc":true}},"y":{"datum":1.05630},"y2":{"datum":1.05311}}},
  {"mark":{"type":"rule","color":"#dddddd"},"encoding":{"x":{"datum":{"year":2023,"month":10,"date":9,"hours":13,"minutes":792,"utc":true}},"y":{"datum":1.05630},"y2":{"datum":1.05311}}},
  {"mark":{"type":"rule","color":"#dddddd"},"encoding":{"x":{"datum":{"year":2023,"month":10,"date":9,"hours":13,"minutes":887,"utc":true}},"y":{"datum":1.05630},"y2":{"datum":1.05311}}},
  {"mark":{"type":"rule","color":"#dddddd"},"encoding":{"x":{"datum":{"year":2023,"month":10,"date":9,"hours":13,"minutes":991,"utc":true}},"y":{"datum":1.05630},"y2":{"datum":1.05311}}},
  {"mark":{"type":"text","text":"建玉","align":"left","baseline":"middle","fontSize":4.8,"color":"#222222","font":"Noto Sans CJK JP"},"encoding":{"x":{"datum":{"year":2023,"month":10,"date":9,"hours":13,"minutes":529,"utc":true}},"y":{"datum":1.05616}}},
  {"mark":{"type":"text","text":"建値","align":"left","baseline":"middle","fontSize":4.8,"color":"#222222","font":"Noto Sans CJK JP"},"encoding":{"x":{"datum":{"year":2023,"month":10,"date":9,"hours":13,"minutes":615,"utc":true}},"y":{"datum":1.05616}}},
  {"mark":{"type":"text","text":"指値","align":"left","baseline":"middle","fontSize":4.8,"color":"#222222","font":"Noto Sans CJK JP"},"encoding":{"x":{"datum":{"year":2023,"month":10,"date":9,"hours":13,"minutes":706,"utc":true}},"y":{"datum":1.05616}}},
  {"mark":{"type":"text","text":"逆指値","align":"left","baseline":"middle","fontSize":4.8,"color":"#222222","font":"Noto Sans CJK JP"},"encoding":{"x":{"datum":{"year":2023,"month":10,"date":9,"hours":13,"minutes":801,"utc":true}},"y":{"datum":1.05616}}},
  {"mark":{"type":"text","text":"損益pips","align":"left","baseline":"middle","fontSize":4.8,"color":"#222222","font":"Noto Sans CJK JP"},"encoding":{"x":{"datum":{"year":2023,"month":10,"date":9,"hours":13,"minutes":896,"utc":true}},"y":{"datum":1.05616}}},
  {"mark":{"type":"text","text":"損益価格","align":"left","baseline":"middle","fontSize":4.8,"color":"#222222","font":"Noto Sans CJK JP"},"encoding":{"x":{"datum":{"year":2023,"month":10,"date":9,"hours":13,"minutes":1004,"utc":true}},"y":{"datum":1.05616}}},
  {"mark":{"type":"text","text":"S","align":"left","baseline":"middle","fontSize":4.5,"color":"#222222","font":"Noto Sans CJK JP"},"encoding":{"x":{"datum":{"year":2023,"month":10,"date":9,"hours":13,"minutes":529,"utc":true}},"y":{"datum":1.05592}}},
  {"mark":{"type":"text","text":"1.05918","align":"left","baseline":"middle","fontSize":4.5,"color":"#222222","font":"Noto Sans CJK JP"},"encoding":{"x":{"datum":{"year":2023,"month":10,"date":9,"hours":13,"minutes":615,"utc":true}},"y":{"datum":1.05592}}},
  {"mark":{"type":"text","text":"1.06128","align":"left","baseline":"middle","fontSize":4.5,"color":"#222222","font":"Noto Sans CJK JP"},"encoding":{"x":{"datum":{"year":2023,"month":10,"date":9,"hours":13,"minutes":801,"utc":true}},"y":{"datum":1.05592}}},
  {"mark":{"type":"text","text":"3.2","align":"left","baseline":"middle","fontSize":4.5,"color":"#222222","font":"Noto Sans CJK JP"},"encoding":{"x":{"datum":{"year":2023,"month":10,"date":9,"hours":13,"minutes":896,"utc":true}},"y":{"datum":1.05592}}},
  {"mark":{"type":"text","text":"1,600","align":"left","baseline":"middle","fontSize":4.5,"color":"#222222","font":"Noto Sans CJK JP"},"encoding":{"x":{"datum":{"year":2023,"month":10,"date":9,"hours":13,"minutes":1004,"utc":true}},"y":{"datum":1.05592}}},
  {"mark":{"type":"rect","fill":"#35a4e8"},"encoding":{"x":{"datum":{"year":2023,"month":10,"date":9,"hours":13,"minutes":525,"utc":true}},"x2":{"datum":{"year":2023,"month":10,"date":9,"hours":13,"minutes":892,"utc":true}},"y":{"datum":1.05581},"y2":{"datum":1.05557}}},
  {"mark":{"type":"rect","fill":"#ffffff","stroke":"#4aa8e6","strokeWidth":0.6},"encoding":{"x":{"datum":{"year":2023,"month":10,"date":9,"hours":13,"minutes":892,"utc":true}},"x2":{"datum":{"year":2023,"month":10,"date":9,"hours":13,"minutes":1151,"utc":true}},"y":{"datum":1.05581},"y2":{"datum":1.05557}}},
  {"mark":{"type":"text","text":"×","align":"left","baseline":"middle","fontSize":4.5,"color":"#ffffff","font":"Noto Sans CJK JP"},"encoding":{"x":{"datum":{"year":2023,"month":10,"date":9,"hours":13,"minutes":529,"utc":true}},"y":{"datum":1.05569}}},
  {"mark":{"type":"text","text":"3.2","align":"left","baseline":"middle","fontSize":4.5,"color":"#222222","font":"Noto Sans CJK JP"},"encoding":{"x":{"datum":{"year":2023,"month":10,"date":9,"hours":13,"minutes":896,"utc":true}},"y":{"datum":1.05569}}},
  {"mark":{"type":"text","text":"1,600","align":"left","baseline":"middle","fontSize":4.5,"color":"#222222","font":"Noto Sans CJK JP"},"encoding":{"x":{"datum":{"year":2023,"month":10,"date":9,"hours":13,"minutes":1004,"utc":true}},"y":{"datum":1.05569}}},
  {"mark":{"type":"rect","fill":"#eeeeee","stroke":"#d0d0d0","strokeWidth":0.5},"encoding":{"x":{"datum":{"year":2023,"month":10,"date":9,"hours":13,"minutes":1151,"utc":true}},"x2":{"datum":{"year":2023,"month":10,"date":9,"hours":13,"minutes":1177,"utc":true}},"y":{"datum":1.05630},"y2":{"datum":1.05311}}},
  {"mark":{"type":"rect","fill":"#cfcfcf"},"encoding":{"x":{"datum":{"year":2023,"month":10,"date":9,"hours":13,"minutes":1154,"utc":true}},"x2":{"datum":{"year":2023,"month":10,"date":9,"hours":13,"minutes":1174,"utc":true}},"y":{"datum":1.05602},"y2":{"datum":1.05533}}},
  {"mark":{"type":"rect","fill":"#fafafa","stroke":"#9a9a9a","strokeWidth":0.5},"encoding":{"x":{"datum":{"year":2023,"month":10,"date":9,"hours":13,"minutes":538,"utc":true}},"x2":{"datum":{"year":2023,"month":10,"date":9,"hours":13,"minutes":676,"utc":true}},"y":{"datum":1.05299},"y2":{"datum":1.05272}}},
  {"mark":{"type":"rect","fill":"#fafafa","stroke":"#9a9a9a","strokeWidth":0.5},"encoding":{"x":{"datum":{"year":2023,"month":10,"date":9,"hours":13,"minutes":702,"utc":true}},"x2":{"datum":{"year":2023,"month":10,"date":9,"hours":13,"minutes":831,"utc":true}},"y":{"datum":1.05299},"y2":{"datum":1.05272}}},
  {"mark":{"type":"rect","fill":"#fafafa","stroke":"#9a9a9a","strokeWidth":0.5},"encoding":{"x":{"datum":{"year":2023,"month":10,"date":9,"hours":13,"minutes":857,"utc":true}},"x2":{"datum":{"year":2023,"month":10,"date":9,"hours":13,"minutes":991,"utc":true}},"y":{"datum":1.05299},"y2":{"datum":1.05272}}},
  {"mark":{"type":"rect","fill":"#fafafa","stroke":"#9a9a9a","strokeWidth":0.5},"encoding":{"x":{"datum":{"year":2023,"month":10,"date":9,"hours":13,"minutes":1021,"utc":true}},"x2":{"datum":{"year":2023,"month":10,"date":9,"hours":13,"minutes":1159,"utc":true}},"y":{"datum":1.05299},"y2":{"datum":1.05272}}},
  {"mark":{"type":"rect","fill":"#fafafa","stroke":"#9a9a9a","strokeWidth":0.5},"encoding":{"x":{"datum":{"year":2023,"month":10,"date":9,"hours":13,"minutes":538,"utc":true}},"x2":{"datum":{"year":2023,"month":10,"date":9,"hours":13,"minutes":676,"utc":true}},"y":{"datum":1.05260},"y2":{"datum":1.05233}}},
  {"mark":{"type":"rect","fill":"#fafafa","stroke":"#9a9a9a","strokeWidth":0.5},"encoding":{"x":{"datum":{"year":2023,"month":10,"date":9,"hours":13,"minutes":702,"utc":true}},"x2":{"datum":{"year":2023,"month":10,"date":9,"hours":13,"minutes":831,"utc":true}},"y":{"datum":1.05260},"y2":{"datum":1.05233}}},
  {"mark":{"type":"rect","fill":"#fafafa","stroke":"#9a9a9a","strokeWidth":0.5},"encoding":{"x":{"datum":{"year":2023,"month":10,"date":9,"hours":13,"minutes":857,"utc":true}},"x2":{"datum":{"year":2023,"month":10,"date":9,"hours":13,"minutes":991,"utc":true}},"y":{"datum":1.05260},"y2":{"datum":1.05233}}},
  {"mark":{"type":"rect","fill":"#fafafa","stroke":"#9a9a9a","strokeWidth":0.5},"encoding":{"x":{"datum":{"year":2023,"month":10,"date":9,"hours":13,"minutes":1021,"utc":true}},"x2":{"datum":{"year":2023,"month":10,"date":9,"hours":13,"minutes":1159,"utc":true}},"y":{"datum":1.05260},"y2":{"datum":1.05233}}},
  {"mark":{"type":"text","text":"トレール設定","align":"center","baseline":"middle","fontSize":4.8,"color":"#222222","font":"Noto Sans CJK JP"},"encoding":{"x":{"datum":{"year":2023,"month":10,"date":9,"hours":13,"minutes":607,"utc":true}},"y":{"datum":1.05286}}},
  {"mark":{"type":"text","text":"自動ナンピン","align":"center","baseline":"middle","fontSize":4.8,"color":"#222222","font":"Noto Sans CJK JP"},"encoding":{"x":{"datum":{"year":2023,"month":10,"date":9,"hours":13,"minutes":767,"utc":true}},"y":{"datum":1.05286}}},
  {"mark":{"type":"text","text":"逆再生","align":"center","baseline":"middle","fontSize":4.8,"color":"#222222","font":"Noto Sans CJK JP"},"encoding":{"x":{"datum":{"year":2023,"month":10,"date":9,"hours":13,"minutes":924,"utc":true}},"y":{"datum":1.05286}}},
  {"mark":{"type":"text","text":"日時再生","align":"center","baseline":"middle","fontSize":4.8,"color":"#222222","font":"Noto Sans CJK JP"},"encoding":{"x":{"datum":{"year":2023,"month":10,"date":9,"hours":13,"minutes":1090,"utc":true}},"y":{"datum":1.05286}}},
  {"mark":{"type":"text","text":"新規 指値","align":"center","baseline":"middle","fontSize":4.8,"color":"#222222","font":"Noto Sans CJK JP"},"encoding":{"x":{"datum":{"year":2023,"month":10,"date":9,"hours":13,"minutes":607,"utc":true}},"y":{"datum":1.05246}}},
  {"mark":{"type":"text","text":"指値 編集","align":"center","baseline":"middle","fontSize":4.8,"color":"#222222","font":"Noto Sans CJK JP"},"encoding":{"x":{"datum":{"year":2023,"month":10,"date":9,"hours":13,"minutes":767,"utc":true}},"y":{"datum":1.05246}}},
  {"mark":{"type":"text","text":"決済","align":"center","baseline":"middle","fontSize":4.8,"color":"#222222","font":"Noto Sans CJK JP"},"encoding":{"x":{"datum":{"year":2023,"month":10,"date":9,"hours":13,"minutes":924,"utc":true}},"y":{"datum":1.05246}}},
  {"mark":{"type":"text","text":"全決済","align":"center","baseline":"middle","fontSize":4.8,"color":"#222222","font":"Noto Sans CJK JP"},"encoding":{"x":{"datum":{"year":2023,"month":10,"date":9,"hours":13,"minutes":1090,"utc":true}},"y":{"datum":1.05246}}}
 ]}
]
}
